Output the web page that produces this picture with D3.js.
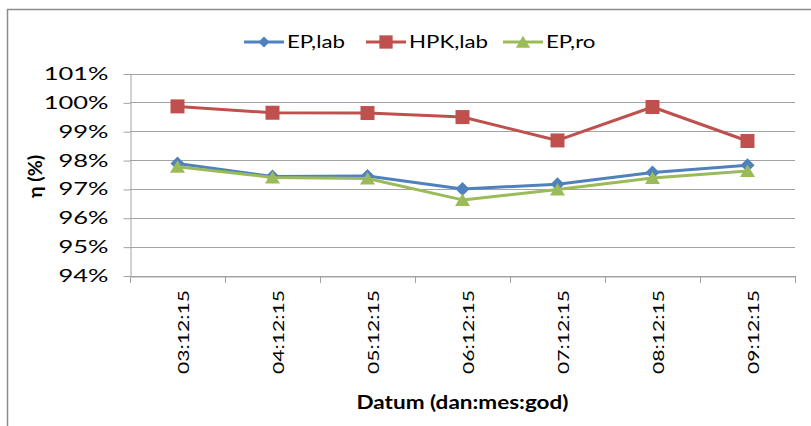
<!DOCTYPE html>
<html>
<head>
<meta charset="utf-8">
<script src="https://cdn.jsdelivr.net/npm/d3@7"></script>
<style>
  body { margin: 0; background: #fff; }
  svg { display: block; }
  text { font-family: Lato, "Open Sans", "Liberation Sans", sans-serif; fill: #000; }
</style>
</head>
<body>
<svg id="chart" width="811" height="426"></svg>
<script>
// Measurement dates (day:month:year)
const dates = ["03:12:15", "04:12:15", "05:12:15", "06:12:15", "07:12:15", "08:12:15", "09:12:15"];
// Efficiency in percent
const epLab  = [97.88, 97.43, 97.45, 97.00, 97.16, 97.57, 97.82];
const hpkLab = [99.86, 99.64, 99.63, 99.49, 98.68, 99.84, 98.66];
const epRo   = [97.77, 97.40, 97.36, 96.62, 96.98, 97.38, 97.62];
const yTicks = [94, 95, 96, 97, 98, 99, 100, 101];
const seriesNames = ["EP,lab", "HPK,lab", "EP,ro"];
const seriesColors = ["#4F81BD", "#C0504D", "#9BBB59"];
const seriesShapes = ["diamond", "square", "triangle"];
const xTitle = "Datum (dan:mes:god)";
const yTitle = "η (%)";

const series = [epLab, hpkLab, epRo].map((values, i) => ({
  name: seriesNames[i], color: seriesColors[i], shape: seriesShapes[i], values
}));

const svg = d3.select("#chart");
const plot = { left: 130, right: 795, top: 73.5, bottom: 275.5 };
const gridColor = "#a3a3a3";

const x = d3.scaleBand().domain(dates).range([plot.left, plot.right]);
const y = d3.scaleLinear().domain([94, 101]).range([plot.bottom, plot.top]);

// Horizontally stretch a group of labels so the first one spans `target` px
function fitWidth(sel, target) {
  const nodes = sel.nodes();
  if (!nodes.length) return;
  const k = target / nodes[0].getComputedTextLength();
  nodes.forEach(n => {
    n.setAttribute("textLength", n.getComputedTextLength() * k);
    n.setAttribute("lengthAdjust", "spacingAndGlyphs");
  });
}

// Outer chart frame
svg.append("rect")
  .attr("x", 7.5).attr("y", 9.5)
  .attr("width", 900).attr("height", 500)
  .attr("fill", "none").attr("stroke", "#8c8c8c").attr("stroke-width", 1.5);

// Horizontal gridlines
svg.append("g").selectAll("line")
  .data(yTicks)
  .join("line")
  .attr("x1", plot.left).attr("x2", plot.right)
  .attr("y1", d => Math.round(y(d)) + 0.5).attr("y2", d => Math.round(y(d)) + 0.5)
  .attr("stroke", gridColor).attr("stroke-width", 1);

// Y axis
const yAxis = svg.append("g")
  .attr("transform", `translate(${plot.left + 0.5},0.5)`)
  .call(d3.axisLeft(y).tickValues(yTicks).tickSize(7).tickSizeOuter(0).tickPadding(15)
    .tickFormat(d => d + "%"));
yAxis.select(".domain").attr("stroke", gridColor);
yAxis.selectAll(".tick line").attr("stroke", gridColor);
yAxis.selectAll(".tick text")
  .attr("font-family", null).style("font-size", "17px").attr("fill", "#000");
yAxis.attr("font-family", null).attr("font-size", null);
fitWidth(yAxis.selectAll(".tick text"), 50);

// X axis line and category boundary ticks
const xAxis = svg.append("g")
  .attr("transform", `translate(0,${Math.round(plot.bottom) + 0.5})`)
  .call(d3.axisBottom(x).tickSize(0).tickFormat(""));
xAxis.select(".domain").attr("stroke", gridColor);
const bounds = dates.map(d => x(d)).concat([plot.right]);
svg.append("g").selectAll("line")
  .data(bounds)
  .join("line")
  .attr("x1", d => Math.round(d) + 0.5).attr("x2", d => Math.round(d) + 0.5)
  .attr("y1", Math.round(plot.bottom)).attr("y2", Math.round(plot.bottom) + 7)
  .attr("stroke", gridColor);

// Rotated category labels
const xLabels = svg.append("g").selectAll("text")
  .data(dates)
  .join("text")
  .attr("transform", "rotate(-90)")
  .attr("x", -290)
  .attr("y", d => x(d) + x.bandwidth() / 2 + 11)
  .attr("text-anchor", "end")
  .style("font-size", "15px")
  .text(d => d);
fitWidth(xLabels, 84);

// Marker shapes
function markerPath(shape) {
  if (shape === "diamond") return "M0,-7L7,0L0,7L-7,0Z";
  if (shape === "square") return "M-7,-7H7V7H-7Z";
  return "M0,-6.5L7.5,6L-7.5,6Z";
}

const line = d3.line()
  .x((d, i) => x(dates[i]) + x.bandwidth() / 2)
  .y(d => y(d));

// Series lines and markers (drawn in series order)
series.forEach(s => {
  const g = svg.append("g");
  g.append("path")
    .attr("d", line(s.values))
    .attr("fill", "none")
    .attr("stroke", s.color)
    .attr("stroke-width", 3)
    .attr("stroke-linejoin", "round");
  g.selectAll("path.m")
    .data(s.values)
    .join("path")
    .attr("class", "m")
    .attr("d", markerPath(s.shape))
    .attr("transform", (d, i) => `translate(${x(dates[i]) + x.bandwidth() / 2},${y(d)})`)
    .attr("fill", s.color);
});

// Legend
const legendX = [244, 366, 503];
const legend = svg.append("g");
series.forEach((s, i) => {
  const g = legend.append("g").attr("transform", `translate(${legendX[i]},42)`);
  g.append("line").attr("x1", 0).attr("x2", 40).attr("y1", 0).attr("y2", 0)
    .attr("stroke", s.color).attr("stroke-width", 3);
  g.append("path").attr("d", markerPath(s.shape))
    .attr("transform", `translate(20,0) scale(${s.shape === "diamond" ? 0.8 : 0.95})`)
    .attr("fill", s.color);
  g.append("text").attr("class", "lg").attr("x", 43).attr("y", 0).attr("dy", "0.36em")
    .style("font-size", "17px").text(s.name);
});
fitWidth(legend.selectAll("text.lg"), 58);

// Axis titles
const xt = svg.append("text")
  .attr("x", (plot.left + plot.right) / 2)
  .attr("y", 409)
  .attr("text-anchor", "middle")
  .style("font-size", "18px").style("font-weight", "bold")
  .text(xTitle);
fitWidth(xt, 212);

const yt = svg.append("text")
  .attr("transform", "rotate(-90)")
  .attr("x", -176.5)
  .attr("y", 42)
  .attr("text-anchor", "middle")
  .style("font-size", "18px").style("font-weight", "bold")
  .text(yTitle);
fitWidth(yt, 43);
</script>
</body>
</html>
